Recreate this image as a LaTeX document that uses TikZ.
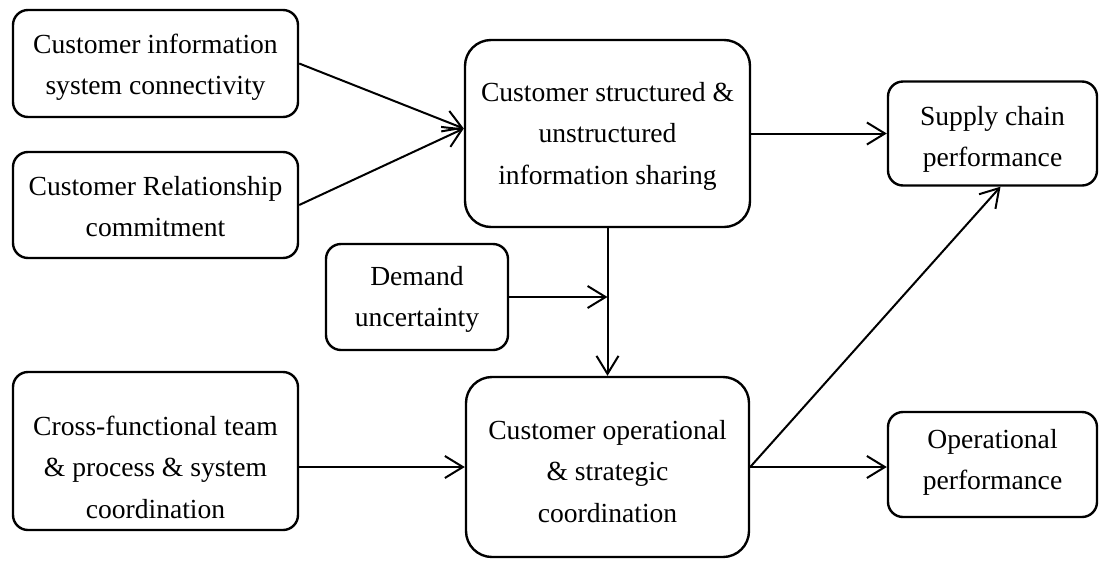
\documentclass[tikz,border=0pt]{standalone}
\usepackage{fontspec}
\setmainfont{Liberation Serif}
\usetikzlibrary{arrows.meta,calc}
% text block with an invisible strut above the first line (#1) and below the last (#2),
% which sets where the lines sit inside their box
\newcommand\boxtext[3]{\rule{0pt}{#1pt}#3\rule[-#2pt]{0pt}{#2pt}}
\begin{document}
\begin{tikzpicture}[x=1pt,y=-1pt,
  box/.style={draw,line width=2.4pt,rounded corners=15pt,align=center,inner sep=0pt,
    font=\fontsize{27.6}{41.5}\selectfont},
  bigbox/.style={box,rounded corners=26pt},
  link/.style={line width=2pt,-{Straight Barb[length=18pt,width=22pt,line width=2pt]}}]
\useasboundingbox (0,0) rectangle (1110,560);
% driver boxes on the left
\node[box,minimum width=285pt,minimum height=107pt] (A) at (155.5,63.5)
  {\boxtext{34.5}{14}{Customer information\\system connectivity}};
\node[box,minimum width=285pt,minimum height=106pt] (B) at (155.5,205)
  {\boxtext{35.5}{14}{Customer Relationship\\commitment}};
\node[box,minimum width=285pt,minimum height=158pt] (F) at (155.5,451)
  {\boxtext{55}{4}{Cross-functional team\\\& process \& system\\coordination}};
% moderator
\node[box,minimum width=182pt,minimum height=106pt] (E) at (417,297)
  {\boxtext{31.5}{14}{Demand\\uncertainty}};
% central constructs
\node[bigbox,minimum width=285pt,minimum height=187pt] (C) at (607.5,133.5)
  {\boxtext{32}{14}{Customer structured \&\\unstructured\\information sharing}};
\node[bigbox,minimum width=283pt,minimum height=180pt] (G) at (607.5,467)
  {\boxtext{41}{14}{Customer operational\\\& strategic\\coordination}};
% outcomes
\node[box,minimum width=209pt,minimum height=104pt] (D) at (992.5,133.5)
  {\boxtext{38.5}{14}{Supply chain\\performance}};
\node[box,minimum width=209pt,minimum height=105pt] (H) at (992.5,464.5)
  {\boxtext{22.5}{14}{Operational\\performance}};
% arrow end points on box borders
\coordinate (Cin) at ($(C.west)+(0,-5)$);
\coordinate (Emid) at (C.south |- E.east);
\coordinate (Dtip) at ($(D.south)+(8,0)$);
% connectors
\draw[link] (A.east) -- (Cin);
\draw[link] (B.east) -- (Cin);
\draw[link] (C.east) -- (D.west);
\draw[link] (C.south) -- (G.north);
\draw[link] (E.east) -- (Emid);
\draw[link] (F.east |- G.west) -- (G.west);
\draw[link] (G.east) -- (G.east -| H.west);
\draw[link] (G.east) -- (Dtip);
\end{tikzpicture}
\end{document}
